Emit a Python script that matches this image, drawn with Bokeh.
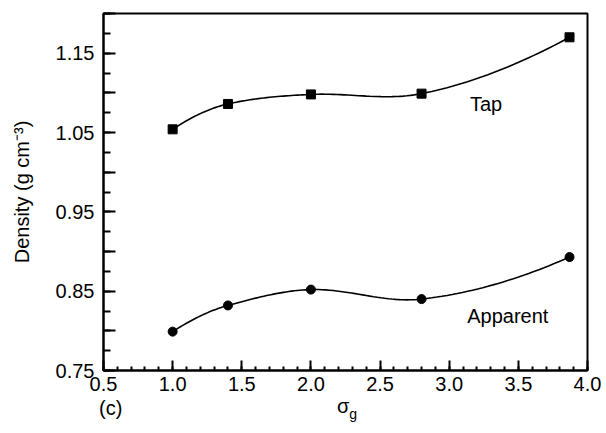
import numpy as np
from bokeh.plotting import figure
from bokeh.models import Label, FixedTicker, Range1d, Div
from bokeh.layouts import column
from bokeh.embed import file_html
from bokeh.resources import INLINE

# ---- data ----
sigma_g = [1.0, 1.4, 2.0, 2.8, 3.87]
tap_density = [1.054, 1.086, 1.098, 1.099, 1.170]
apparent_density = [0.799, 0.832, 0.852, 0.840, 0.893]

x_major_ticks = [0.5, 1.0, 1.5, 2.0, 2.5, 3.0, 3.5, 4.0]
y_major_ticks = [0.75, 0.8, 0.85, 0.9, 0.95, 1.0, 1.05, 1.1, 1.15, 1.2]
y_labelled = [0.75, 0.85, 0.95, 1.05, 1.15]
series_labels = ["Tap", "Apparent"]


def smooth_curve(xs, ys, n=30, tension=0.9):
    """Cubic Hermite (cardinal) curve through the points, for drawing only."""
    xs = np.asarray(xs, float)
    ys = np.asarray(ys, float)
    k = len(xs)
    sec = np.diff(ys) / np.diff(xs)
    m = np.empty(k)
    for i in range(1, k - 1):
        m[i] = (ys[i + 1] - ys[i - 1]) / (xs[i + 1] - xs[i - 1])
    m[0] = 2 * sec[0] - m[1]
    m[-1] = 2 * sec[-1] - m[-2]
    m[1:-1] *= tension
    out_x, out_y = [], []
    for i in range(k - 1):
        h = xs[i + 1] - xs[i]
        t = np.linspace(0, 1, n, endpoint=(i == k - 2))
        h00 = 2 * t**3 - 3 * t**2 + 1
        h10 = t**3 - 2 * t**2 + t
        h01 = -2 * t**3 + 3 * t**2
        h11 = t**3 - t**2
        out_x.extend(xs[i] + t * h)
        out_y.extend(h00 * ys[i] + h10 * h * m[i] + h01 * ys[i + 1] + h11 * h * m[i + 1])
    return out_x, out_y


FONT = "Liberation Sans"
FS = "20px"

p = figure(width=606, height=395, output_backend="svg", toolbar_location=None,
           x_range=Range1d(0.5, 4.0), y_range=Range1d(0.75, 1.20),
           min_border_left=103, min_border_right=19, min_border_top=13,
           min_border_bottom=25)
p.background_fill_color = "white"
p.border_fill_color = "white"
p.xgrid.visible = False
p.ygrid.visible = False
p.outline_line_color = "black"
p.outline_line_width = 2

# curves
tx, ty = smooth_curve(sigma_g, tap_density)
ax_, ay_ = smooth_curve(sigma_g, apparent_density)
p.line(tx, ty, line_color="black", line_width=1.6)
p.line(ax_, ay_, line_color="black", line_width=1.6)
p.scatter(sigma_g, tap_density, marker="square", size=9, color="black")
p.scatter(sigma_g, apparent_density, marker="circle", size=9, color="black")

# axes
xa = p.xaxis[0]
xa.ticker = FixedTicker(ticks=x_major_ticks,
                        minor_ticks=[round(0.5 + 0.1 * i, 2) for i in range(36)])
xa.major_tick_in = 10
xa.major_tick_out = 0
xa.minor_tick_in = 4
xa.minor_tick_out = 0
xa.axis_line_width = 2
xa.major_tick_line_width = 2
xa.minor_tick_line_width = 2
xa.major_label_text_font = FONT
xa.major_label_text_font_size = FS
xa.major_label_text_color = "black"
xa.major_label_standoff = 6
xa.major_label_overrides = {v: f"{v:.1f}" for v in x_major_ticks}

ya = p.yaxis[0]
ya.ticker = FixedTicker(ticks=y_major_ticks,
                        minor_ticks=[round(0.75 + 0.025 * i, 3) for i in range(19)])
ya.major_tick_in = 12
ya.major_tick_out = 0
ya.minor_tick_in = 7
ya.minor_tick_out = 0
ya.axis_line_width = 2
ya.major_tick_line_width = 2
ya.minor_tick_line_width = 2
ya.major_label_text_font = FONT
ya.major_label_text_font_size = FS
ya.major_label_text_color = "black"
ya.major_label_standoff = 9
ya.major_label_overrides = {v: (f"{v:.2f}" if v in y_labelled else "") for v in y_major_ticks}
ya.axis_label = "Density (g cm\u207b\u00b3)"
ya.axis_label_text_font = FONT
ya.axis_label_text_font_size = FS
ya.axis_label_text_font_style = "normal"
ya.axis_label_text_color = "black"
ya.axis_label_standoff = 20

# series labels
p.add_layout(Label(x=3.15, y=1.086, text=series_labels[0], text_font=FONT,
                   text_font_size=FS, text_color="black", text_baseline="middle"))
p.add_layout(Label(x=3.13, y=0.819, text=series_labels[1], text_font=FONT,
                   text_font_size=FS, text_color="black", text_baseline="middle"))

# x-axis title (sigma with subscript g) and panel tag below the plot
caption = Div(
    width=606, height=38, margin=0,
    text=(
        "<div style=\"position:relative;width:606px;height:38px;"
        "font-family:'Liberation Sans';font-size:20px;color:black;line-height:20px;\">"
        "<span style=\"position:absolute;left:99px;top:3px;\">(c)</span>"
        "<span style=\"position:absolute;left:337px;top:1px;\">\u03c3"
        "<span style=\"font-size:14px;position:relative;top:6px;\">g</span></span>"
        "</div>"
    ),
)

layout = column(p, caption, spacing=0)
open("out.html", "w").write(file_html(layout, INLINE))
